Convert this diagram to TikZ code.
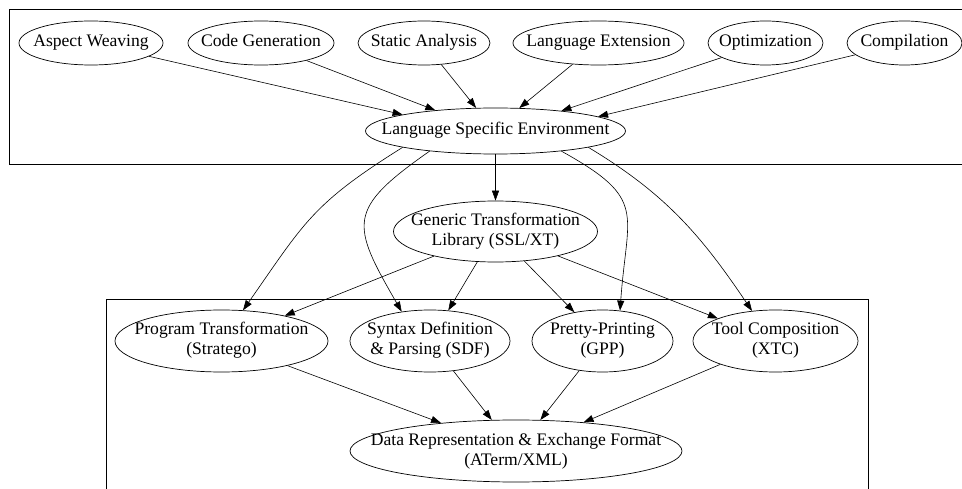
\documentclass[tikz,border=0pt]{standalone}
\usepackage{fontspec}
\setmainfont{Liberation Serif}
\usetikzlibrary{arrows.meta,shapes.geometric}

\newcommand{\lbl}[1]{\makebox[0pt]{\begin{tabular}{@{}c@{}}#1\end{tabular}}}

\tikzset{
  comp/.style={ellipse, draw, line width=0.7pt, inner sep=0pt,
    font=\fontsize{17.6}{20}\selectfont},
  dep/.style={-{Triangle[length=10pt,width=7pt]}, line width=0.6pt},
  cluster/.style={line width=0.8pt}
}

\begin{document}
\begin{tikzpicture}[x=1pt,y=1pt]
\useasboundingbox (0,0) rectangle (962,-489);
% clusters
\draw[cluster] (962,-9.5) -| (9.5,-164) -- (962,-164);
\draw[cluster] (106,-489) |- (868,-299) -- (868,-489);

\node[comp, minimum width=260pt, minimum height=46pt] (lse) at (495.5,-131) {\lbl{Language Specific Environment}};
\foreach \n/\x/\w/\ang/\txt in {
  aw/91/144/170/Aspect Weaving,
  cg/261/146/161/Code Generation,
  sa/424/132/130/Static Analysis,
  le/598.5/171/44/Language Extension,
  op/765.5/115/17/Optimization,
  co/904.5/115/8/Compilation
} {
  \node[comp, minimum width=\w pt, minimum height=44pt] (\n) at (\x,-43) {\lbl{\txt}};
  \draw[dep] (\n) -- (lse.\ang);
}

\node[comp, minimum width=204pt, minimum height=61pt] (gen) at (495.5,-231.5) {\lbl{Generic Transformation\\Library (SSL/XT)}};
\draw[dep] (lse) -- (gen);

\node[comp, minimum width=332pt, minimum height=62pt] (dr) at (516,-451) {\lbl{Data Representation \& Exchange Format\\(ATerm/XML)}};
\foreach \n/\x/\w/\txt in {
  pt/221.5/213/Program Transformation\\(Stratego),
  sd/430/160/Syntax Definition\\\& Parsing (SDF),
  pp/602.5/141/Pretty-Printing\\(GPP),
  tc/775.5/165/Tool Composition\\(XTC)
} {
  \node[comp, minimum width=\w pt, minimum height=62pt] (\n) at (\x,-341) {\lbl{\txt}};
  \draw[dep] (gen) -- (\n);
  \draw[dep] (\n) -- (dr);
}

% environment to the tool set
\draw[dep] (lse.190) to[out=212,in=55,looseness=1.2] (pt.55);
\draw[dep] (lse.197) to[out=215,in=120,looseness=1.6] (sd.134);
\draw[dep] (lse.343) to[out=331,in=86,looseness=1.5] (pp.60);
\draw[dep] (lse.350) to[out=329,in=124] (tc.128);
\end{tikzpicture}
\end{document}
